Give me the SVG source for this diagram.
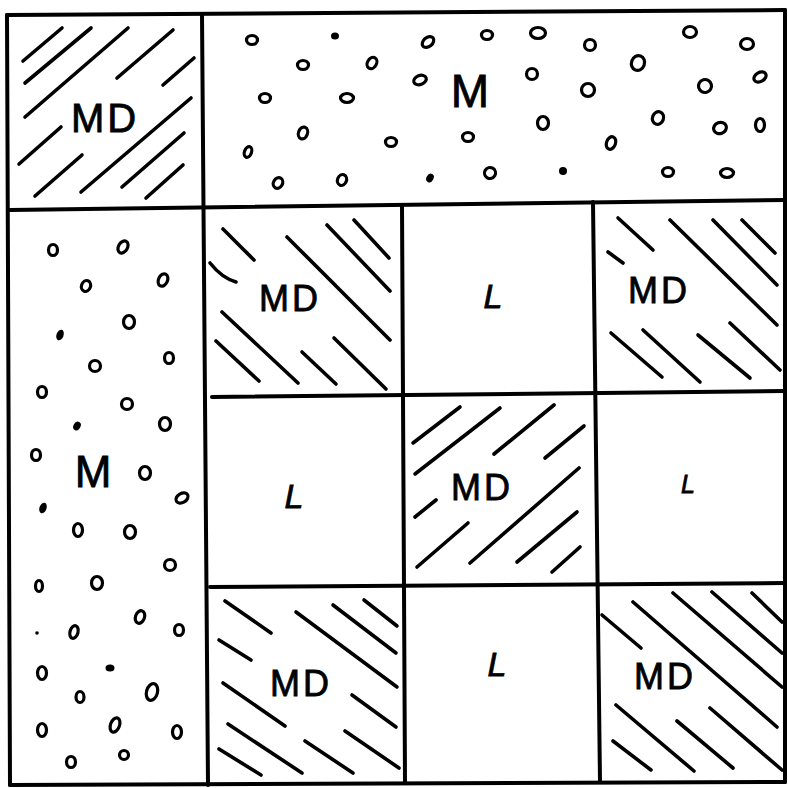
<svg xmlns="http://www.w3.org/2000/svg" width="788" height="788" viewBox="0 0 788 788">
<style>
.b{stroke:#000;stroke-width:4;fill:none;stroke-linecap:round}
.h{stroke:#000;stroke-width:3.6;fill:none;stroke-linecap:round}
.o{stroke:#000;stroke-width:3.2;fill:none}
.f{fill:#000}
.t{font-family:"Liberation Sans",Arial,sans-serif;fill:#000;stroke:#000;stroke-width:0.8;text-anchor:middle}
.md{font-size:36px;letter-spacing:3px}
.l{font-size:34px;font-style:italic}
</style>
<rect width="788" height="788" fill="#fff"/>
<g id="frame">
<line class="b" x1="7" y1="15" x2="785" y2="10"/>
<line class="b" x1="7" y1="15" x2="10" y2="785"/>
<line class="b" x1="785" y1="10" x2="785" y2="782"/>
<line class="b" x1="10" y1="785" x2="785" y2="782"/>
<line class="b" x1="10" y1="210" x2="785" y2="200"/>
<line class="b" x1="202" y1="15" x2="208" y2="785"/>
<line class="b" x1="402" y1="205" x2="405" y2="782"/>
<line class="b" x1="593" y1="202" x2="600" y2="782"/>
<line class="b" x1="212" y1="397" x2="785" y2="391"/>
<line class="b" x1="210" y1="587" x2="785" y2="583"/>
</g>
<g id="cell-top-left-MD">
<g class="h">
<line x1="23" y1="61" x2="62" y2="28"/>
<line x1="25" y1="83" x2="91" y2="28"/>
<line x1="25" y1="117" x2="128" y2="28"/>
<line x1="117" y1="78" x2="173" y2="30"/>
<line x1="163" y1="85" x2="194" y2="58"/>
<line x1="19" y1="164" x2="61" y2="127"/>
<line x1="35" y1="196" x2="82" y2="155"/>
<line x1="81" y1="192" x2="191" y2="98"/>
<line x1="122" y1="187" x2="184" y2="133"/>
<line x1="146" y1="198" x2="183" y2="165"/>
</g>
<text class="t md" x="105" y="132" style="font-size:40px">MD</text>
</g>
<g id="cell-top-M">
<g class="o">
<ellipse cx="252" cy="40" rx="5.5" ry="4.5"/>
<ellipse cx="303" cy="65" rx="5.5" ry="4.5"/>
<ellipse cx="372" cy="63" rx="4.5" ry="6" transform="rotate(30 372 63)"/>
<ellipse cx="265" cy="98" rx="5.5" ry="4.5"/>
<ellipse cx="347" cy="98" rx="6.5" ry="4.5"/>
<ellipse cx="303" cy="133" rx="4.5" ry="6" transform="rotate(20 303 133)"/>
<ellipse cx="391" cy="142" rx="5.5" ry="4.5"/>
<ellipse cx="248" cy="152" rx="3.5" ry="5.5" transform="rotate(20 248 152)"/>
<ellipse cx="278" cy="183" rx="4.5" ry="5.5" transform="rotate(30 278 183)"/>
<ellipse cx="342" cy="180" rx="4.5" ry="5.5" transform="rotate(20 342 180)"/>
<ellipse cx="428" cy="42" rx="4.5" ry="6.5" transform="rotate(50 428 42)"/>
<ellipse cx="487" cy="35" rx="5.5" ry="4.5"/>
<ellipse cx="538" cy="33" rx="7.5" ry="5.5"/>
<ellipse cx="590" cy="45" rx="5.5" ry="5.5"/>
<ellipse cx="638" cy="63" rx="6.5" ry="7.5" transform="rotate(20 638 63)"/>
<ellipse cx="690" cy="32" rx="6.5" ry="5.5"/>
<ellipse cx="747" cy="44" rx="6.5" ry="5.5"/>
<ellipse cx="420" cy="80" rx="6.5" ry="4.5" transform="rotate(-20 420 80)"/>
<ellipse cx="532" cy="74" rx="5.5" ry="5.5"/>
<ellipse cx="588" cy="90" rx="6.5" ry="6.5"/>
<ellipse cx="705" cy="86" rx="6.5" ry="6.5" transform="rotate(30 705 86)"/>
<ellipse cx="760" cy="77" rx="6.5" ry="4.5" transform="rotate(-30 760 77)"/>
<ellipse cx="543" cy="123" rx="5.5" ry="6.5"/>
<ellipse cx="658" cy="118" rx="5.5" ry="6.5" transform="rotate(20 658 118)"/>
<ellipse cx="720" cy="128" rx="6.5" ry="5.5" transform="rotate(-20 720 128)"/>
<ellipse cx="760" cy="125" rx="4.5" ry="6.5"/>
<ellipse cx="468" cy="137" rx="5.5" ry="4.5"/>
<ellipse cx="611" cy="143" rx="4.5" ry="6.5" transform="rotate(20 611 143)"/>
<ellipse cx="490" cy="173" rx="5.5" ry="5.5" transform="rotate(30 490 173)"/>
<ellipse cx="668" cy="172" rx="5.5" ry="4.5"/>
<ellipse cx="727" cy="173" rx="6.5" ry="4.5"/>
</g>
<ellipse class="f" cx="335" cy="36" rx="4" ry="3.5"/>
<ellipse class="f" cx="430" cy="178" rx="3.5" ry="4.5" transform="rotate(30 430 178)"/>
<ellipse class="f" cx="563" cy="171" rx="4" ry="4"/>
<text class="t" x="470" y="107" style="font-size:46px">M</text>
</g>
<g id="cell-left-M">
<g class="o">
<ellipse cx="53" cy="250" rx="4.5" ry="5.5"/>
<ellipse cx="123" cy="247" rx="4.5" ry="6.5" transform="rotate(30 123 247)"/>
<ellipse cx="86" cy="286" rx="4.5" ry="5.5" transform="rotate(20 86 286)"/>
<ellipse cx="163" cy="280" rx="4.5" ry="6.5" transform="rotate(25 163 280)"/>
<ellipse cx="129" cy="322" rx="5.5" ry="6.5"/>
<ellipse cx="95" cy="366" rx="5.5" ry="5.5"/>
<ellipse cx="169" cy="358" rx="4.5" ry="5.5"/>
<ellipse cx="42" cy="392" rx="4.5" ry="5.5"/>
<ellipse cx="127" cy="404" rx="5.5" ry="5.5"/>
<ellipse cx="165" cy="424" rx="5.5" ry="6.5"/>
<ellipse cx="36" cy="455" rx="4.5" ry="5.5"/>
<ellipse cx="145" cy="473" rx="5.5" ry="6.5"/>
<ellipse cx="182" cy="498" rx="6.5" ry="4.5" transform="rotate(-30 182 498)"/>
<ellipse cx="78" cy="530" rx="4.5" ry="6.5"/>
<ellipse cx="130" cy="532" rx="5.5" ry="6.5"/>
<ellipse cx="170" cy="565" rx="5.5" ry="5.5"/>
<ellipse cx="39" cy="586" rx="3.5" ry="5.5"/>
<ellipse cx="97" cy="583" rx="5.5" ry="6.5"/>
<ellipse cx="140" cy="617" rx="4.5" ry="6.5" transform="rotate(20 140 617)"/>
<ellipse cx="179" cy="630" rx="4.5" ry="5.5"/>
<ellipse cx="74" cy="632" rx="4" ry="6.5" transform="rotate(15 74 632)"/>
<ellipse cx="42" cy="673" rx="4.5" ry="6.5"/>
<ellipse cx="152" cy="692" rx="5.5" ry="8.5" transform="rotate(15 152 692)"/>
<ellipse cx="80" cy="697" rx="4" ry="5.5"/>
<ellipse cx="42" cy="730" rx="4.5" ry="6.5"/>
<ellipse cx="115" cy="725" rx="4.5" ry="7.5" transform="rotate(20 115 725)"/>
<ellipse cx="177" cy="732" rx="4.5" ry="6.5"/>
<ellipse cx="71" cy="762" rx="4.5" ry="5.5"/>
<ellipse cx="124" cy="755" rx="4.5" ry="4.5"/>
</g>
<ellipse class="f" cx="60" cy="335" rx="3.5" ry="5.5" transform="rotate(20 60 335)"/>
<ellipse class="f" cx="77" cy="426" rx="3.5" ry="4.5" transform="rotate(30 77 426)"/>
<ellipse class="f" cx="43" cy="508" rx="3.5" ry="5.5" transform="rotate(20 43 508)"/>
<ellipse class="f" cx="110" cy="668" rx="4.5" ry="3.5"/>
<circle class="f" cx="37" cy="633" r="1.8"/>
<text class="t" x="93" y="487" style="font-size:44px">M</text>
</g>
<g id="cell-r1c1-MD">
<g class="h">
<line x1="223" y1="229" x2="254" y2="260"/>
<path d="M210 263 Q222 278 236 282"/>
<line x1="287" y1="237" x2="390" y2="340"/>
<line x1="327" y1="225" x2="390" y2="291"/>
<line x1="354" y1="220" x2="389" y2="258"/>
<line x1="222" y1="312" x2="298" y2="383"/>
<line x1="216" y1="341" x2="259" y2="381"/>
<line x1="302" y1="352" x2="336" y2="384"/>
<line x1="334" y1="338" x2="386" y2="389"/>
</g>
<text class="t md" x="290" y="311">MD</text>
</g>
<g id="cell-r1c2-L">
<text class="t l" x="493" y="308">L</text>
</g>
<g id="cell-r1c3-MD">
<g class="h">
<line x1="618" y1="218" x2="653" y2="250"/>
<line x1="608" y1="252" x2="623" y2="263"/>
<line x1="670" y1="220" x2="777" y2="325"/>
<line x1="713" y1="220" x2="777" y2="285"/>
<line x1="742" y1="220" x2="775" y2="253"/>
<line x1="611" y1="333" x2="662" y2="377"/>
<line x1="643" y1="330" x2="700" y2="382"/>
<line x1="698" y1="335" x2="750" y2="378"/>
<line x1="730" y1="323" x2="780" y2="370"/>
</g>
<text class="t md" x="659" y="303">MD</text>
</g>
<g id="cell-r2c1-L">
<text class="t l" x="294" y="508">L</text>
</g>
<g id="cell-r2c2-MD">
<g class="h">
<line x1="413" y1="443" x2="460" y2="407"/>
<line x1="415" y1="474" x2="500" y2="408"/>
<line x1="494" y1="454" x2="554" y2="405"/>
<line x1="545" y1="458" x2="584" y2="426"/>
<line x1="415" y1="517" x2="436" y2="500"/>
<line x1="417" y1="567" x2="468" y2="523"/>
<line x1="470" y1="563" x2="579" y2="468"/>
<line x1="517" y1="562" x2="577" y2="512"/>
<line x1="552" y1="572" x2="580" y2="547"/>
</g>
<text class="t md" x="482" y="500">MD</text>
</g>
<g id="cell-r2c3-L">
<text class="t l" x="688" y="493" style="font-size:25px">L</text>
</g>
<g id="cell-r3c1-MD">
<g class="h">
<line x1="225" y1="601" x2="271" y2="633"/>
<line x1="219" y1="640" x2="251" y2="660"/>
<line x1="296" y1="612" x2="397" y2="687"/>
<line x1="333" y1="605" x2="396" y2="653"/>
<line x1="364" y1="600" x2="397" y2="626"/>
<line x1="223" y1="683" x2="285" y2="726"/>
<line x1="228" y1="724" x2="302" y2="773"/>
<line x1="219" y1="749" x2="261" y2="775"/>
<line x1="305" y1="741" x2="353" y2="773"/>
<line x1="345" y1="731" x2="399" y2="768"/>
<line x1="352" y1="695" x2="396" y2="727"/>
</g>
<text class="t md" x="301" y="696">MD</text>
</g>
<g id="cell-r3c2-L">
<text class="t l" x="497" y="676">L</text>
</g>
<g id="cell-r3c3-MD">
<g class="h">
<line x1="602" y1="615" x2="641" y2="648"/>
<line x1="633" y1="602" x2="777" y2="727"/>
<line x1="673" y1="593" x2="782" y2="687"/>
<line x1="712" y1="592" x2="782" y2="653"/>
<line x1="752" y1="593" x2="782" y2="622"/>
<line x1="616" y1="705" x2="694" y2="771"/>
<line x1="613" y1="741" x2="651" y2="770"/>
<line x1="677" y1="721" x2="733" y2="768"/>
<line x1="710" y1="708" x2="782" y2="770"/>
</g>
<text class="t md" x="665" y="689">MD</text>
</g>
</svg>
